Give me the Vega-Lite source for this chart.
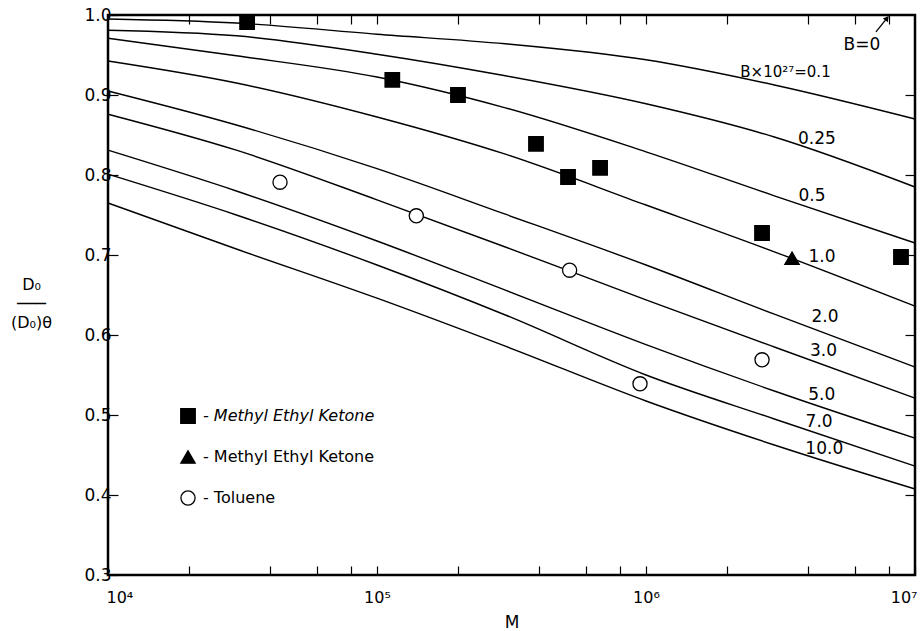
{
  "$schema": "https://vega.github.io/schema/vega-lite/v6.json",
  "width": 807,
  "height": 560,
  "autosize": "none",
  "padding": {"left": 108, "top": 15, "right": 8, "bottom": 56},
  "config": {
    "font": "DejaVu Sans",
    "view": {"stroke": "black", "strokeWidth": 2.5},
    "axis": {"domain": false, "grid": false, "tickColor": "black", "labelColor": "black", "titleColor": "black", "labelFontSize": 17, "tickWidth": 1.2, "labelFont": "DejaVu Sans", "titleFont": "DejaVu Sans"}
  },
  "datasets": {
    "curves": [
      {"B": "0", "M": 10000, "v": 1.0}, {"B": "0", "M": 10000000, "v": 1.0},
      {"B": "0.1", "M": 10000, "v": 0.995}, {"B": "0.1", "M": 30000, "v": 0.99}, {"B": "0.1", "M": 100000, "v": 0.976}, {"B": "0.1", "M": 300000, "v": 0.964}, {"B": "0.1", "M": 1000000, "v": 0.944}, {"B": "0.1", "M": 3000000, "v": 0.9125}, {"B": "0.1", "M": 10000000, "v": 0.87},
      {"B": "0.25", "M": 10000, "v": 0.981}, {"B": "0.25", "M": 30000, "v": 0.974}, {"B": "0.25", "M": 100000, "v": 0.951}, {"B": "0.25", "M": 300000, "v": 0.924}, {"B": "0.25", "M": 1000000, "v": 0.889}, {"B": "0.25", "M": 3000000, "v": 0.8475}, {"B": "0.25", "M": 10000000, "v": 0.785},
      {"B": "0.5", "M": 10000, "v": 0.971}, {"B": "0.5", "M": 30000, "v": 0.949}, {"B": "0.5", "M": 100000, "v": 0.9225}, {"B": "0.5", "M": 300000, "v": 0.884}, {"B": "0.5", "M": 1000000, "v": 0.829}, {"B": "0.5", "M": 3000000, "v": 0.774}, {"B": "0.5", "M": 10000000, "v": 0.715},
      {"B": "1.0", "M": 10000, "v": 0.9425}, {"B": "1.0", "M": 30000, "v": 0.915}, {"B": "1.0", "M": 100000, "v": 0.8725}, {"B": "1.0", "M": 300000, "v": 0.826}, {"B": "1.0", "M": 1000000, "v": 0.7625}, {"B": "1.0", "M": 3000000, "v": 0.704}, {"B": "1.0", "M": 10000000, "v": 0.636},
      {"B": "2.0", "M": 10000, "v": 0.905}, {"B": "2.0", "M": 30000, "v": 0.8625}, {"B": "2.0", "M": 100000, "v": 0.808}, {"B": "2.0", "M": 300000, "v": 0.751}, {"B": "2.0", "M": 1000000, "v": 0.6875}, {"B": "2.0", "M": 3000000, "v": 0.626}, {"B": "2.0", "M": 10000000, "v": 0.56},
      {"B": "3.0", "M": 10000, "v": 0.876}, {"B": "3.0", "M": 30000, "v": 0.831}, {"B": "3.0", "M": 100000, "v": 0.769}, {"B": "3.0", "M": 300000, "v": 0.71}, {"B": "3.0", "M": 1000000, "v": 0.644}, {"B": "3.0", "M": 3000000, "v": 0.585}, {"B": "3.0", "M": 10000000, "v": 0.521},
      {"B": "5.0", "M": 10000, "v": 0.831}, {"B": "5.0", "M": 30000, "v": 0.78}, {"B": "5.0", "M": 100000, "v": 0.7175}, {"B": "5.0", "M": 300000, "v": 0.656}, {"B": "5.0", "M": 1000000, "v": 0.588}, {"B": "5.0", "M": 3000000, "v": 0.53}, {"B": "5.0", "M": 10000000, "v": 0.471},
      {"B": "7.0", "M": 10000, "v": 0.801}, {"B": "7.0", "M": 30000, "v": 0.75}, {"B": "7.0", "M": 100000, "v": 0.6875}, {"B": "7.0", "M": 300000, "v": 0.625}, {"B": "7.0", "M": 1000000, "v": 0.55}, {"B": "7.0", "M": 3000000, "v": 0.495}, {"B": "7.0", "M": 10000000, "v": 0.436},
      {"B": "10.0", "M": 10000, "v": 0.765}, {"B": "10.0", "M": 30000, "v": 0.7075}, {"B": "10.0", "M": 100000, "v": 0.646}, {"B": "10.0", "M": 300000, "v": 0.586}, {"B": "10.0", "M": 1000000, "v": 0.5175}, {"B": "10.0", "M": 3000000, "v": 0.4625}, {"B": "10.0", "M": 10000000, "v": 0.4075}
    ],
    "points": [
      {"series": "sq", "M": 32900, "v": 0.991},
      {"series": "sq", "M": 114000, "v": 0.919},
      {"series": "sq", "M": 200000, "v": 0.9},
      {"series": "sq", "M": 390000, "v": 0.839},
      {"series": "sq", "M": 513000, "v": 0.7975},
      {"series": "sq", "M": 675000, "v": 0.809},
      {"series": "sq", "M": 2700000, "v": 0.7275},
      {"series": "sq", "M": 8870000, "v": 0.6975},
      {"series": "tri", "M": 3490000, "v": 0.696},
      {"series": "tol", "M": 43600, "v": 0.791},
      {"series": "tol", "M": 140000, "v": 0.749},
      {"series": "tol", "M": 520000, "v": 0.681},
      {"series": "tol", "M": 950000, "v": 0.539},
      {"series": "tol", "M": 2700000, "v": 0.569}
    ],
    "labels": [
      {"text": "B=0", "M": 6350000, "v": 0.9625},
      {"text": "B×10²⁷=0.1", "M": 3300000, "v": 0.929},
      {"text": "0.25", "M": 4320000, "v": 0.845},
      {"text": "0.5", "M": 4140000, "v": 0.774},
      {"text": "1.0", "M": 4510000, "v": 0.6975},
      {"text": "2.0", "M": 4630000, "v": 0.6225},
      {"text": "3.0", "M": 4570000, "v": 0.58},
      {"text": "5.0", "M": 4500000, "v": 0.525},
      {"text": "7.0", "M": 4400000, "v": 0.491},
      {"text": "10.0", "M": 4600000, "v": 0.4575}
    ],
    "arrow": [
      {"M": 7160000, "v": 0.979, "M2": 7870000, "v2": 0.996}
    ]
  },
  "layer": [
    {
      "data": {"name": "curves"},
      "mark": {"type": "line", "color": "black", "strokeWidth": 1.4, "interpolate": "monotone"},
      "encoding": {
        "x": {
          "field": "M", "type": "quantitative",
          "scale": {"type": "log", "domain": [10000, 10000000], "nice": false},
          "axis": {
            "orient": "bottom",
            "values": [10000, 20000, 40000, 60000, 80000, 100000, 200000, 400000, 600000, 800000, 1000000, 2000000, 4000000, 6000000, 8000000, 10000000],
            "labelExpr": "datum.value == 10000 ? '10⁴' : datum.value == 100000 ? '10⁵' : datum.value == 1000000 ? '10⁶' : datum.value == 10000000 ? '10⁷' : ''",
            "tickSize": -9,
            "labelPadding": 23,
            "labelFontSize": 16,
            "labelFlush": true,
            "labelFlushOffset": 2,
            "labelOverlap": false,
            "title": "M",
            "titleFontSize": 17,
            "titleFontWeight": "normal",
            "titlePadding": 9
          }
        },
        "y": {
          "field": "v", "type": "quantitative",
          "scale": {"domain": [0.3, 1.0], "nice": false, "zero": false},
          "axis": {
            "orient": "left",
            "values": [0.3, 0.4, 0.5, 0.6, 0.7, 0.8, 0.9, 1.0],
            "format": ".1f",
            "tickSize": -10,
            "labelPadding": 7,
            "labelFlush": false,
            "labelOverlap": false,
            "title": ["D₀", "───", "(D₀)θ"],
            "titleAngle": 0,
            "titleAlign": "center",
            "titleBaseline": "middle",
            "titleX": -77,
            "titleY": 269,
            "titleLineHeight": 19,
            "titleFontSize": 16,
            "titleFontWeight": "normal"
          }
        },
        "detail": {"field": "B"}
      }
    },
    {
      "data": {"name": "labels"},
      "mark": {"type": "text", "fontSize": 17, "color": "black", "font": "DejaVu Sans"},
      "encoding": {
        "x": {
          "field": "M", "type": "quantitative",
          "axis": {
            "orient": "top",
            "values": [20000, 40000, 60000, 80000, 100000, 200000, 400000, 600000, 800000, 1000000, 2000000, 4000000, 6000000, 8000000],
            "labels": false,
            "tickSize": -9,
            "title": null
          }
        },
        "y": {
          "field": "v", "type": "quantitative",
          "axis": {
            "orient": "right",
            "values": [0.4, 0.5, 0.6, 0.7, 0.8, 0.9],
            "labels": false,
            "tickSize": -10,
            "title": null
          }
        },
        "text": {"field": "text"},
        "size": {"condition": {"test": "length(datum.text) > 6", "value": 15}, "value": 17}
      }
    },
    {
      "data": {"name": "arrow"},
      "mark": {"type": "rule", "color": "black", "strokeWidth": 1.3},
      "encoding": {
        "x": {"field": "M", "type": "quantitative", "axis": null},
        "x2": {"field": "M2"},
        "y": {"field": "v", "type": "quantitative", "axis": null},
        "y2": {"field": "v2"}
      }
    },
    {
      "data": {"name": "arrow"},
      "mark": {"type": "point", "shape": "triangle-up", "filled": true, "color": "black", "size": 40, "angle": 38, "opacity": 1},
      "encoding": {
        "x": {"field": "M2", "type": "quantitative", "axis": null},
        "y": {"field": "v2", "type": "quantitative", "axis": null}
      }
    },
    {
      "data": {"name": "points"},
      "mark": {"type": "point", "filled": true, "stroke": "black", "strokeWidth": 1.3, "opacity": 1},
      "encoding": {
        "x": {"field": "M", "type": "quantitative", "axis": null},
        "y": {"field": "v", "type": "quantitative", "axis": null},
        "color": {
          "field": "series", "type": "nominal",
          "scale": {"domain": ["sq", "tri", "tol"], "range": ["black", "black", "white"]},
          "legend": {
            "orient": "none", "legendX": 72, "legendY": 393, "title": null,
            "labelExpr": "datum.value == 'tol' ? '- Toluene' : '- Methyl Ethyl Ketone'",
            "labelFontSize": 16, "labelFont": "DejaVu Sans", "labelColor": "black", "labelLimit": 400,
            "labelFontStyle": {"expr": "datum.value == 'sq' ? 'italic' : 'normal'"},
            "rowPadding": 22, "labelOffset": 7,
            "symbolStrokeColor": "black", "symbolStrokeWidth": 1.3
          }
        },
        "shape": {
          "field": "series", "type": "nominal",
          "scale": {"domain": ["sq", "tri", "tol"], "range": ["square", "triangle-up", "circle"]}
        },
        "size": {
          "field": "series", "type": "nominal",
          "scale": {"domain": ["sq", "tri", "tol"], "range": [210, 200, 165]}
        }
      }
    }
  ],
  "resolve": {"axis": {"x": "independent", "y": "independent"}}
}
